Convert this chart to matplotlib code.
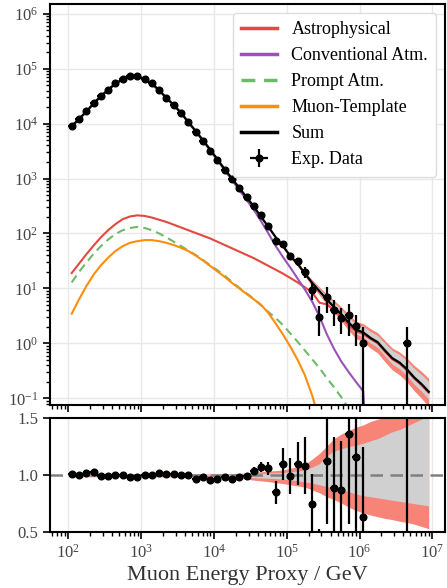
import numpy as np
import matplotlib.pyplot as plt

plt.rcParams['font.family'] = ['Liberation Serif', 'DejaVu Serif']
plt.rcParams['mathtext.fontset'] = 'stix'

# 50 log-spaced bins from 1e2 to 1e7 GeV
bin_edges = np.logspace(2, 7, 51)
centers = np.sqrt(bin_edges[:-1] * bin_edges[1:])
half_lo = centers - bin_edges[:-1]
half_hi = bin_edges[1:] - centers

# model components, log10(events) per bin
log_sum = [3.95, 4.09, 4.22, 4.37, 4.50, 4.62, 4.73, 4.81, 4.87, 4.87,
           4.81, 4.73, 4.61, 4.47, 4.34, 4.20, 4.03, 3.87, 3.70, 3.53,
           3.35, 3.17, 3.00, 2.83, 2.66, 2.49, 2.30, 2.12, 1.93, 1.77,
           1.59, 1.45, 1.27, 1.10, 0.95, 0.80, 0.66, 0.53, 0.38, 0.25,
           0.20, 0.10, 0.02, -0.13, -0.27, -0.35, -0.47, -0.62, -0.74, -0.88]
log_conv = [3.94, 4.08, 4.21, 4.36, 4.49, 4.61, 4.72, 4.80, 4.86, 4.86,
            4.80, 4.72, 4.60, 4.46, 4.33, 4.19, 4.02, 3.86, 3.69, 3.51,
            3.33, 3.15, 2.97, 2.79, 2.61, 2.43, 2.22, 2.00, 1.77, 1.57,
            1.38, 1.18, 0.98, 0.76, 0.49, 0.17, -0.10, -0.33, -0.52, -0.70,
            -0.87, -3.0, -3.0, -3.0, -3.0, -3.0, -3.0, -3.0, -3.0, -3.0]
log_astro = [1.28, 1.45, 1.62, 1.78, 1.93, 2.06, 2.17, 2.26, 2.31, 2.33,
             2.32, 2.29, 2.25, 2.21, 2.16, 2.11, 2.06, 2.01, 1.96, 1.91,
             1.85, 1.79, 1.73, 1.67, 1.61, 1.55, 1.48, 1.41, 1.34, 1.27,
             1.19, 1.11, 1.02, 0.93, 0.74, 0.71, 0.60, 0.49, 0.33, 0.22,
             0.17, 0.08, 0.00, -0.15, -0.29, -0.37, -0.49, -0.64, -0.76, -0.90]
log_prompt = [1.11, 1.30, 1.47, 1.63, 1.77, 1.89, 1.99, 2.06, 2.10, 2.12,
              2.10, 2.06, 2.00, 1.93, 1.85, 1.77, 1.69, 1.61, 1.52, 1.42,
              1.33, 1.23, 1.12, 1.01, 0.91, 0.81, 0.69, 0.57, 0.46, 0.33,
              0.18, 0.03, -0.13, -0.29, -0.45, -0.63, -0.80, -0.98, -1.18, -1.40,
              -1.60, -1.80, -2.0, -2.2, -2.4, -2.6, -2.8, -3.0, -3.2, -3.4]
log_muon = [0.54, 0.80, 1.04, 1.25, 1.42, 1.56, 1.68, 1.77, 1.83, 1.86,
            1.88, 1.88, 1.86, 1.83, 1.79, 1.74, 1.68, 1.60, 1.51, 1.41,
            1.31, 1.21, 1.10, 1.00, 0.90, 0.80, 0.70, 0.55, 0.36, 0.16,
            -0.06, -0.30, -0.58, -0.95, -1.40, -2.0, -2.6, -3.0, -3.0, -3.0,
            -3.0, -3.0, -3.0, -3.0, -3.0, -3.0, -3.0, -3.0, -3.0, -3.0]

# relative model uncertainty (outer = red, inner = gray)
red_hi = [0.01] * 20 + [0.012, 0.013, 0.014, 0.015, 0.02, 0.025, 0.03, 0.035, 0.04, 0.045,
                        0.06, 0.075, 0.095, 0.14, 0.19, 0.255, 0.32, 0.36, 0.39, 0.42,
                        0.44, 0.47, 0.49, 0.51, 0.53, 0.56, 0.60, 0.65, 0.70, 0.75]
gray_hi = [0.005] * 20 + [0.006, 0.007, 0.008, 0.009, 0.01, 0.012, 0.015, 0.018, 0.02, 0.022,
                          0.03, 0.036, 0.045, 0.07, 0.10, 0.17, 0.21, 0.23, 0.25, 0.26,
                          0.28, 0.30, 0.32, 0.35, 0.38, 0.40, 0.43, 0.46, 0.49, 0.53]
gray_lo = [-0.005] * 20 + [-0.008, -0.01, -0.012, -0.015, -0.02, -0.022, -0.025, -0.028, -0.03, -0.035,
                           -0.042, -0.05, -0.06, -0.07, -0.085, -0.10, -0.115, -0.125, -0.145, -0.165,
                           -0.18, -0.19, -0.20, -0.21, -0.22, -0.23, -0.24, -0.25, -0.26, -0.27]
red_lo = [-0.015] * 20 + [-0.018, -0.02, -0.022, -0.025, -0.035, -0.045, -0.05, -0.058, -0.066, -0.074,
                          -0.085, -0.095, -0.105, -0.13, -0.155, -0.19, -0.215, -0.245, -0.28, -0.31,
                          -0.33, -0.35, -0.365, -0.38, -0.39, -0.405, -0.415, -0.43, -0.45, -0.47]

# experimental data as data / sum, for the bins that have events
data_bins = list(range(41)) + [46]
data_ratio = [1.01, 1.0, 1.02, 1.025, 0.99, 0.99, 1.005, 1.0, 0.985, 0.985,
              1.005, 1.005, 1.015, 1.01, 1.01, 1.005, 1.0, 0.965, 0.98, 0.955,
              0.97, 0.98, 0.97, 0.98, 0.99, 1.04, 1.07, 1.06, 0.85, 1.10,
              0.99, 1.10, 1.08, 0.75, 0.34, 1.125, 0.89, 0.87, 1.36, 1.155,
              0.63, 2.95]
data_ratio_err = [0.005, 0.005, 0.005, 0.005, 0.005, 0.005, 0.005, 0.005, 0.005, 0.005,
                  0.005, 0.005, 0.005, 0.005, 0.006, 0.007, 0.008, 0.009, 0.01, 0.012,
                  0.013, 0.015, 0.017, 0.02, 0.03, 0.035, 0.045, 0.055, 0.10, 0.14,
                  0.16, 0.19, 0.25, 0.26, 0.19, 0.55, 0.44, 0.43, 0.79, 0.66,
                  0.62, 2.95]

model = 10 ** np.array(log_sum)
x_d = centers[data_bins]
xerr_d = [half_lo[data_bins], half_hi[data_bins]]
ratio = np.array(data_ratio)
ratio_err = np.array(data_ratio_err)
counts = model[data_bins] * ratio
counts_err = model[data_bins] * ratio_err

c_astro = '#e2493f'
c_conv = '#9b51b8'
c_prompt = '#6dbb6a'
c_muon = '#ff8c0a'
c_band = '#f88478'
c_gray = '#d0d0d0'

fig = plt.figure(figsize=(4.47, 5.88), dpi=100)
ax1 = fig.add_axes([0.112, 0.311, 0.884, 0.682])
ax2 = fig.add_axes([0.112, 0.095, 0.884, 0.194])

# top panel
ax1.fill_between(centers, model * (1 + np.array(red_lo)), model * (1 + np.array(red_hi)),
                 color=c_band, lw=0, zorder=1)
ax1.fill_between(centers, model * (1 + np.array(gray_lo)), model * (1 + np.array(gray_hi)),
                 color=c_gray, lw=0, zorder=1)
ax1.plot(centers, 10 ** np.array(log_astro), color=c_astro, lw=1.5, label='Astrophysical', zorder=2)
ax1.plot(centers, 10 ** np.array(log_conv), color=c_conv, lw=1.5, label='Conventional Atm.', zorder=2)
ax1.plot(centers, 10 ** np.array(log_prompt), color=c_prompt, lw=1.5, ls=(0, (4, 2.5)),
         label='Prompt Atm.', zorder=2)
ax1.plot(centers, 10 ** np.array(log_muon), color=c_muon, lw=1.5, label='Muon-Template', zorder=2)
ax1.plot(centers, model, color='black', lw=1.6, label='Sum', zorder=3)
ax1.errorbar(x_d, counts, yerr=counts_err, xerr=xerr_d, fmt='o', color='black',
             ms=4.8, elinewidth=1.6, capsize=0, label='Exp. Data', zorder=4)

ax1.set_xscale('log')
ax1.set_yscale('log')
ax1.set_xlim(56.6, 1.5e7)
ax1.set_ylim(0.075, 1.5e6)
ax1.tick_params(labelbottom=False)
leg = ax1.legend(loc='upper right', fontsize=13, frameon=True, fancybox=True,
                 edgecolor='#dddddd', framealpha=1, handlelength=2.0,
                 labelspacing=0.5, borderaxespad=0.5, borderpad=0.45)
leg.get_frame().set_linewidth(1.0)
for h in leg.get_lines():
    h.set_linewidth(2.5)

# ratio panel
ax2.fill_between(centers, 1 + np.array(red_lo), 1 + np.array(red_hi), color=c_band, lw=0, zorder=1)
ax2.fill_between(centers, 1 + np.array(gray_lo), 1 + np.array(gray_hi), color=c_gray, lw=0, zorder=1)
ax2.axhline(1.0, color='gray', lw=1.8, ls=(0, (5, 3)), zorder=2)
ax2.errorbar(x_d, ratio, yerr=ratio_err, xerr=xerr_d, fmt='o', color='black',
             ms=4.8, elinewidth=1.6, capsize=0, zorder=4)
ax2.set_xscale('log')
ax2.set_xlim(56.6, 1.5e7)
ax2.set_ylim(0.5, 1.5)
ax2.set_yticks([0.5, 1.0, 1.5])
ax2.set_yticklabels(['0.5', '1.0', '1.5'])
ax2.set_xlabel('Muon Energy Proxy / GeV', fontsize=16, color='#333333', labelpad=3)

for ax in (ax1, ax2):
    ax.grid(True, which='major', color='#e8e8e8', lw=1.0, zorder=0)
    ax.set_axisbelow(True)
    for s in ax.spines.values():
        s.set_linewidth(1.5)
        s.set_color('black')
    ax.tick_params(which='major', direction='out', length=5, width=1.2, labelsize=12,
                   labelcolor='#444444')
    ax.tick_params(which='minor', direction='out', length=3, width=1.0)
ax2.grid(False, axis='y')
ax2.tick_params(axis='y', which='minor', left=False)

fig.savefig('out.png', dpi=100)
